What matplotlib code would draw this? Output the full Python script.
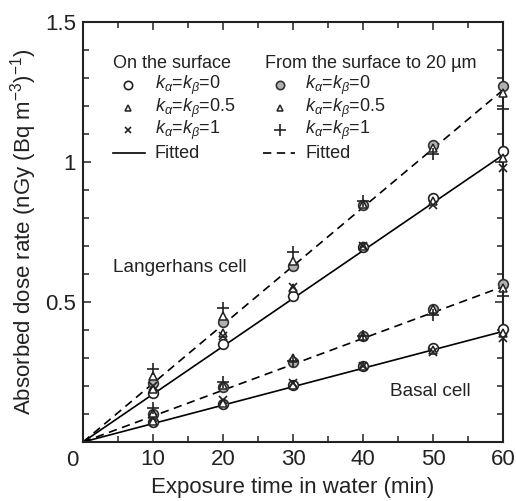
import matplotlib
matplotlib.use("Agg")
import matplotlib.pyplot as plt
from matplotlib.ticker import MultipleLocator

plt.rcParams["font.family"] = ["Liberation Sans", "DejaVu Sans"]
plt.rcParams["mathtext.fontset"] = "custom"
plt.rcParams["mathtext.rm"] = "Liberation Sans"
plt.rcParams["mathtext.it"] = "Liberation Sans:italic"

# exposure time (min)
t = [10, 20, 30, 40, 50, 60]

# Langerhans cell, on the surface
lang_surf_k0 = [0.175, 0.35, 0.52, 0.695, 0.87, 1.04]
lang_surf_k05 = [0.19, 0.39, 0.55, 0.70, 0.86, 1.015]
lang_surf_k1 = [0.20, 0.38, 0.555, 0.70, 0.845, 0.98]
# Langerhans cell, surface to 20 um
lang_20_k0 = [0.21, 0.43, 0.63, 0.845, 1.06, 1.27]
lang_20_k05 = [0.235, 0.45, 0.645, 0.85, 1.05, 1.245]
lang_20_k1 = [0.26, 0.48, 0.68, 0.86, 1.03, 1.19]
# Basal cell, on the surface
basal_surf_k0 = [0.07, 0.135, 0.205, 0.27, 0.335, 0.405]
basal_surf_k05 = [0.075, 0.14, 0.205, 0.27, 0.33, 0.39]
basal_surf_k1 = [0.085, 0.15, 0.21, 0.27, 0.32, 0.37]
# Basal cell, surface to 20 um
basal_20_k0 = [0.10, 0.195, 0.285, 0.38, 0.475, 0.565]
basal_20_k05 = [0.105, 0.205, 0.30, 0.38, 0.475, 0.55]
basal_20_k1 = [0.12, 0.215, 0.29, 0.38, 0.455, 0.52]

# fitted lines (through origin), end points at t = 0 and 60
fit_t = [0, 60]
fit_lang_surf = [0, 1.025]
fit_lang_20 = [0, 1.257]
fit_basal_surf = [0, 0.395]
fit_basal_20 = [0, 0.555]

fig = plt.figure(figsize=(5.16, 5.01), dpi=100)
ax = fig.add_axes([83 / 516, 1 - 442 / 501, 420 / 516, 420 / 501])

ink = "#222222"
dash = (0, (5, 3.3))
ax.plot(fit_t, fit_lang_surf, color="black", lw=1.2)
ax.plot(fit_t, fit_basal_surf, color="black", lw=1.2)
ax.plot(fit_t, fit_lang_20, color="black", lw=1.2, linestyle=dash)
ax.plot(fit_t, fit_basal_20, color="black", lw=1.2, linestyle=dash)

open_circ = dict(marker="o", ms=7, mfc="white", mec=ink, mew=1.2, ls="none")
gray_circ = dict(marker="o", ms=7, mfc="#b0b0b0", mec="#333333", mew=1.2, ls="none")
tri = dict(marker="^", ms=6, mfc="white", mec=ink, mew=1.1, ls="none")
cross = dict(marker="x", ms=6, mec=ink, mew=1.2, ls="none")
plus = dict(marker="+", ms=9, mec=ink, mew=1.2, ls="none")

for k0, k05, k1 in [(lang_surf_k0, lang_surf_k05, lang_surf_k1),
                    (basal_surf_k0, basal_surf_k05, basal_surf_k1)]:
    ax.plot(t, k0, clip_on=False, zorder=3, **open_circ)
    ax.plot(t, k05, clip_on=False, zorder=4, **tri)
    ax.plot(t, k1, clip_on=False, zorder=4, **cross)

for k0, k05, k1 in [(lang_20_k0, lang_20_k05, lang_20_k1),
                    (basal_20_k0, basal_20_k05, basal_20_k1)]:
    ax.plot(t, k0, clip_on=False, zorder=3, **gray_circ)
    ax.plot(t, k05, clip_on=False, zorder=4, **tri)
    ax.plot(t, k1, clip_on=False, zorder=4, **plus)

ax.set_xlim(0, 60)
ax.set_ylim(0, 1.5)
ax.set_xticks([10, 20, 30, 40, 50, 60])
ax.set_yticks([0.5, 1, 1.5])
ax.set_yticklabels(["0.5", "1", "1.5"])
ax.xaxis.set_minor_locator(MultipleLocator(5))
ax.yaxis.set_minor_locator(MultipleLocator(0.1))
ax.tick_params(which="both", direction="in", top=True, right=True,
               width=1.1, labelsize=16, colors=ink)
ax.tick_params(which="major", length=6, pad=5)
ax.tick_params(which="minor", length=4)
for s in ax.spines.values():
    s.set_linewidth(1.5)
    s.set_color(ink)

ax.text(-0.026, -0.043, "0", transform=ax.transAxes, ha="center", va="center",
        fontsize=16, color=ink)

ax.set_xlabel("Exposure time in water (min)", fontsize=16, color=ink, labelpad=5)
ax.set_ylabel(r"Absorbed dose rate (nGy (Bq m$^{-3}$)$^{-1}$)", fontsize=16,
              color=ink, labelpad=4)

ax.text(4.3, 0.625, "Langerhans cell", fontsize=13.7, color=ink, va="center")
ax.text(43.9, 0.18, "Basal cell", fontsize=13.7, color=ink, va="center")

# legend drawn by hand, two columns
fs = 13
rows = [0.85, 0.795, 0.743, 0.688]
labels = [r"$k_{\alpha}$=$k_{\beta}$=0", r"$k_{\alpha}$=$k_{\beta}$=0.5",
          r"$k_{\alpha}$=$k_{\beta}$=1", "Fitted"]
ax.text(0.071, 0.902, "On the surface", transform=ax.transAxes, fontsize=fs,
        va="center", color=ink)
ax.text(0.433, 0.902, "From the surface to 20 \u00b5m", transform=ax.transAxes,
        fontsize=fs, va="center", color=ink)
for mk, y in zip([open_circ, tri, cross], rows[:3]):
    ax.plot([0.107], [y], transform=ax.transAxes, clip_on=False, **dict(mk, ms=mk["ms"] - 1))
for mk, y in zip([gray_circ, tri, plus], rows[:3]):
    ax.plot([0.469], [y], transform=ax.transAxes, clip_on=False, **dict(mk, ms=mk["ms"] - 1))
ax.plot([0.071, 0.148], [rows[3]] * 2, transform=ax.transAxes, color="black", lw=1.2)
ax.plot([0.429, 0.505], [rows[3]] * 2, transform=ax.transAxes, color="black", lw=1.2,
        linestyle=dash)
for lab, y in zip(labels, rows):
    ax.text(0.171, y, lab, transform=ax.transAxes, fontsize=fs, va="center", color=ink)
    ax.text(0.529, y, lab, transform=ax.transAxes, fontsize=fs, va="center", color=ink)

fig.savefig("out.png", dpi=100)
